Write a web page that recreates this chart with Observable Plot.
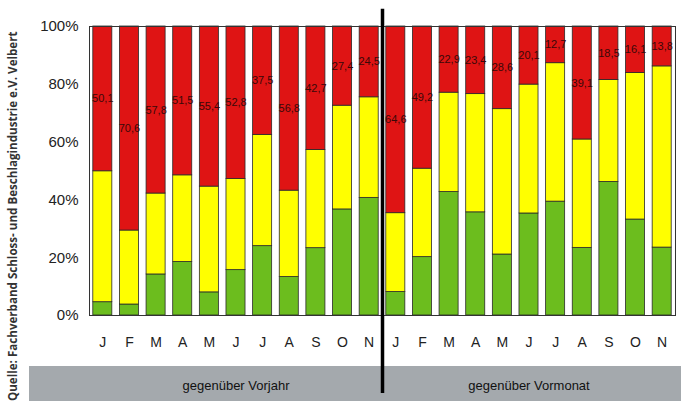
<!DOCTYPE html>
<html>
<head>
<meta charset="utf-8">
<script src="https://cdn.jsdelivr.net/npm/d3@7"></script>
<script src="https://cdn.jsdelivr.net/npm/@observablehq/plot@0.6"></script>
<style>
  html, body { margin: 0; padding: 0; background: #fff; }
  #wrap { position: relative; width: 681px; height: 403px; overflow: hidden; }
  #band { position: absolute; left: 29px; top: 366px; width: 652px; height: 35px; background: #a4a9ad; }
  #source { position: absolute; left: 6px; top: 401px; transform: rotate(-90deg); transform-origin: 0 0;
    white-space: nowrap; font-family: "Open Sans", sans-serif; font-weight: 700; font-size: 11.6px;
    line-height: 14px; color: #333; }
  #chart { position: absolute; left: 0; top: 0; }
</style>
</head>
<body>
<div id="wrap">
  <div id="band"></div>
  <div id="source">Quelle: Fachverband Schloss- und Beschlagindustrie e.V. Velbert</div>
  <div id="chart"></div>
</div>
<script>
const months = ["J","F","M","A","M","J","J","A","S","O","N"];
const groups = ["gegenüber Vorjahr", "gegenüber Vormonat"];
const yTicks = [0, 20, 40, 60, 80, 100];

// gegenüber Vorjahr
const greenVorjahr  = [4.6, 3.8, 14.2, 18.5, 8.0, 15.7, 24.0, 13.3, 23.3, 36.7, 40.7];
const yellowVorjahr = [45.3, 25.6, 28.0, 30.0, 36.6, 31.5, 38.5, 29.9, 34.0, 35.9, 34.8];
const redVorjahr    = [50.1, 70.6, 57.8, 51.5, 55.4, 52.8, 37.5, 56.8, 42.7, 27.4, 24.5];

// gegenüber Vormonat
const greenVormonat  = [8.1, 20.2, 42.7, 35.7, 21.1, 35.3, 39.4, 23.4, 46.2, 33.2, 23.5];
const yellowVormonat = [27.3, 30.6, 34.4, 40.9, 50.3, 44.6, 47.9, 37.5, 35.3, 50.7, 62.7];
const redVormonat    = [64.6, 49.2, 22.9, 23.4, 28.6, 20.1, 12.7, 39.1, 18.5, 16.1, 13.8];

const colors = {green: "#6cbd1e", yellow: "#ffff00", red: "#df1414"};

const series = [
  {green: greenVorjahr, yellow: yellowVorjahr, red: redVorjahr},
  {green: greenVormonat, yellow: yellowVormonat, red: redVormonat}
];

const rects = [];
const labels = [];
series.forEach((s, g) => {
  months.forEach((m, j) => {
    const i = g * months.length + j;
    let base = 0;
    for (const cat of ["green", "yellow", "red"]) {
      const v = s[cat][j];
      rects.push({i, cat, y1: base, y2: base + v});
      if (cat === "red") labels.push({i, y: base + v / 2, text: v.toFixed(1).replace(".", ",")});
      base += v;
    }
  });
});

const n = months.length * groups.length;
const narrow = "'Liberation Sans Narrow', 'Arial Narrow', 'Liberation Sans', Arial, sans-serif";

const plot = Plot.plot({
  width: 681,
  height: 403,
  marginLeft: 89,
  marginRight: 6,
  marginTop: 26,
  marginBottom: 88,
  style: {background: "transparent", fontFamily: "'Liberation Sans', Arial, sans-serif", color: "#222"},
  x: {type: "linear", domain: [0, n], axis: null},
  y: {domain: [0, 100], axis: null},
  marks: [
    Plot.rect(rects, {
      x1: d => d.i, x2: d => d.i + 1, y1: "y1", y2: "y2",
      fill: d => colors[d.cat], stroke: "#2a2a2a", strokeWidth: 0.8,
      insetLeft: 3.8, insetRight: 3.8
    }),
    Plot.frame({stroke: "#333", strokeWidth: 1}),
    Plot.text(labels, {
      x: d => d.i + 0.5, y: "y", text: "text",
      fontSize: 11, fontFamily: narrow, fill: "#3a0808",
      style: "letter-spacing:-0.4px"
    }),
    Plot.axisY({ticks: yTicks, tickFormat: d => d + "%", tickSize: 0, tickPadding: 11, fontSize: 15, fill: "#222"}),
    Plot.axisX({
      ticks: d3.range(n).map(i => i + 0.5),
      tickFormat: t => months[Math.floor(t) % months.length],
      tickSize: 0, tickPadding: 22, fontSize: 14, fill: "#222"
    }),
    Plot.ruleX([months.length], {y1: -27, y2: 106, stroke: "#000", strokeWidth: 3.5}),
    Plot.text(groups, {
      x: (d, k) => k * months.length + months.length / 2, y: () => 0, dy: 70,
      text: d => d, fontSize: 13, fontFamily: narrow, fill: "#111"
    })
  ]
});
document.getElementById("chart").appendChild(plot);
</script>
</body>
</html>
